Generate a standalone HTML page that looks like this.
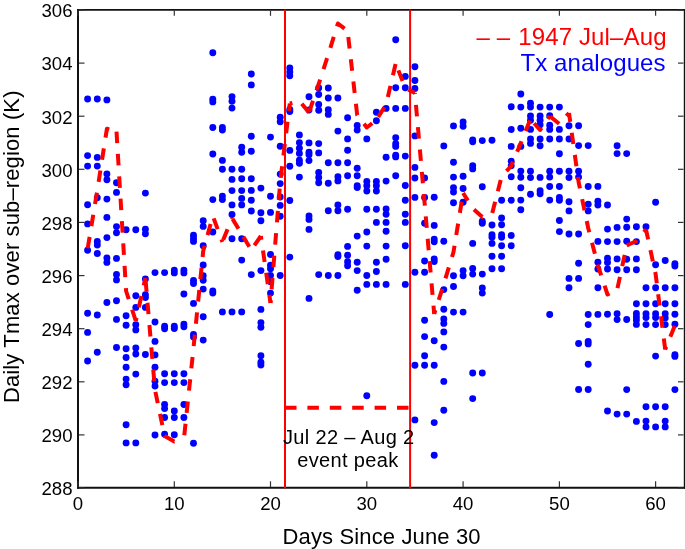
<!DOCTYPE html>
<html><head><meta charset="utf-8"><title>Daily Tmax</title>
<style>
html,body{margin:0;padding:0;background:#fff;}
body{width:685px;height:549px;overflow:hidden;}
svg{display:block;}
text{font-family:'Liberation Sans', Arial, Helvetica, sans-serif;}
</style></head><body>
<svg width="685" height="549" viewBox="0 0 685 549">
<rect x="0" y="0" width="685" height="549" fill="#fff"/>
<g fill="#0000ff">
<circle cx="87.6" cy="99.0" r="3.45"/><circle cx="87.6" cy="155.6" r="3.45"/><circle cx="87.6" cy="166.1" r="3.45"/><circle cx="87.6" cy="204.7" r="3.45"/><circle cx="87.6" cy="223.9" r="3.45"/><circle cx="87.6" cy="250.2" r="3.45"/><circle cx="87.6" cy="313.2" r="3.45"/><circle cx="87.6" cy="332.4" r="3.45"/><circle cx="87.6" cy="361.0" r="3.45"/>
<circle cx="97.3" cy="99.0" r="3.45"/><circle cx="97.3" cy="157.4" r="3.45"/><circle cx="97.3" cy="166.1" r="3.45"/><circle cx="97.3" cy="197.7" r="3.45"/><circle cx="97.3" cy="241.5" r="3.45"/><circle cx="97.3" cy="245.0" r="3.45"/><circle cx="97.3" cy="253.5" r="3.45"/><circle cx="97.3" cy="315.0" r="3.45"/><circle cx="97.3" cy="352.2" r="3.45"/>
<circle cx="106.9" cy="99.9" r="3.45"/><circle cx="106.9" cy="174.0" r="3.45"/><circle cx="106.9" cy="179.8" r="3.45"/><circle cx="106.9" cy="199.1" r="3.45"/><circle cx="106.9" cy="217.4" r="3.45"/><circle cx="106.9" cy="237.6" r="3.45"/><circle cx="106.9" cy="258.0" r="3.45"/><circle cx="106.9" cy="262.4" r="3.45"/><circle cx="106.9" cy="302.5" r="3.45"/>
<circle cx="116.5" cy="182.8" r="3.45"/><circle cx="116.5" cy="192.4" r="3.45"/><circle cx="116.5" cy="226.6" r="3.45"/><circle cx="116.5" cy="232.7" r="3.45"/><circle cx="116.5" cy="258.4" r="3.45"/><circle cx="116.5" cy="274.5" r="3.45"/><circle cx="116.5" cy="279.9" r="3.45"/><circle cx="116.5" cy="300.8" r="3.45"/><circle cx="116.5" cy="319.4" r="3.45"/><circle cx="116.5" cy="347.5" r="3.45"/>
<circle cx="126.1" cy="229.7" r="3.45"/><circle cx="126.1" cy="315.7" r="3.45"/><circle cx="126.1" cy="325.3" r="3.45"/><circle cx="126.1" cy="348.7" r="3.45"/><circle cx="126.1" cy="357.5" r="3.45"/><circle cx="126.1" cy="367.3" r="3.45"/><circle cx="126.1" cy="379.1" r="3.45"/><circle cx="126.1" cy="384.7" r="3.45"/><circle cx="126.1" cy="424.7" r="3.45"/><circle cx="126.1" cy="442.9" r="3.45"/>
<circle cx="135.8" cy="229.7" r="3.45"/><circle cx="135.8" cy="295.7" r="3.45"/><circle cx="135.8" cy="307.4" r="3.45"/><circle cx="135.8" cy="324.8" r="3.45"/><circle cx="135.8" cy="329.9" r="3.45"/><circle cx="135.8" cy="348.0" r="3.45"/><circle cx="135.8" cy="354.0" r="3.45"/><circle cx="135.8" cy="374.1" r="3.45"/><circle cx="135.8" cy="442.9" r="3.45"/>
<circle cx="145.4" cy="193.1" r="3.45"/><circle cx="145.4" cy="229.2" r="3.45"/><circle cx="145.4" cy="233.7" r="3.45"/><circle cx="145.4" cy="278.9" r="3.45"/><circle cx="145.4" cy="294.8" r="3.45"/><circle cx="145.4" cy="297.5" r="3.45"/><circle cx="145.4" cy="307.4" r="3.45"/><circle cx="145.4" cy="354.5" r="3.45"/>
<circle cx="155.0" cy="272.6" r="3.45"/><circle cx="155.0" cy="322.0" r="3.45"/><circle cx="155.0" cy="341.4" r="3.45"/><circle cx="155.0" cy="354.9" r="3.45"/><circle cx="155.0" cy="367.3" r="3.45"/><circle cx="155.0" cy="381.2" r="3.45"/><circle cx="155.0" cy="386.1" r="3.45"/><circle cx="155.0" cy="435.0" r="3.45"/>
<circle cx="164.6" cy="272.6" r="3.45"/><circle cx="164.6" cy="326.2" r="3.45"/><circle cx="164.6" cy="328.8" r="3.45"/><circle cx="164.6" cy="373.8" r="3.45"/><circle cx="164.6" cy="382.6" r="3.45"/><circle cx="164.6" cy="404.4" r="3.45"/><circle cx="164.6" cy="408.6" r="3.45"/><circle cx="164.6" cy="417.5" r="3.45"/><circle cx="164.6" cy="434.2" r="3.45"/>
<circle cx="174.3" cy="270.1" r="3.45"/><circle cx="174.3" cy="272.9" r="3.45"/><circle cx="174.3" cy="326.2" r="3.45"/><circle cx="174.3" cy="328.5" r="3.45"/><circle cx="174.3" cy="373.8" r="3.45"/><circle cx="174.3" cy="382.6" r="3.45"/><circle cx="174.3" cy="410.9" r="3.45"/><circle cx="174.3" cy="417.5" r="3.45"/><circle cx="174.3" cy="434.7" r="3.45"/>
<circle cx="183.9" cy="270.1" r="3.45"/><circle cx="183.9" cy="272.9" r="3.45"/><circle cx="183.9" cy="294.0" r="3.45"/><circle cx="183.9" cy="324.1" r="3.45"/><circle cx="183.9" cy="326.7" r="3.45"/><circle cx="183.9" cy="373.8" r="3.45"/><circle cx="183.9" cy="382.6" r="3.45"/><circle cx="183.9" cy="404.5" r="3.45"/><circle cx="183.9" cy="417.5" r="3.45"/>
<circle cx="193.5" cy="235.3" r="3.45"/><circle cx="193.5" cy="238.4" r="3.45"/><circle cx="193.5" cy="241.4" r="3.45"/><circle cx="193.5" cy="280.4" r="3.45"/><circle cx="193.5" cy="283.5" r="3.45"/><circle cx="193.5" cy="303.4" r="3.45"/><circle cx="193.5" cy="334.4" r="3.45"/><circle cx="193.5" cy="337.0" r="3.45"/><circle cx="193.5" cy="443.3" r="3.45"/>
<circle cx="203.2" cy="220.7" r="3.45"/><circle cx="203.2" cy="226.4" r="3.45"/><circle cx="203.2" cy="245.7" r="3.45"/><circle cx="203.2" cy="265.0" r="3.45"/><circle cx="203.2" cy="275.8" r="3.45"/><circle cx="203.2" cy="280.2" r="3.45"/><circle cx="203.2" cy="289.1" r="3.45"/><circle cx="203.2" cy="316.8" r="3.45"/><circle cx="203.2" cy="340.1" r="3.45"/>
<circle cx="212.8" cy="52.8" r="3.45"/><circle cx="212.8" cy="99.2" r="3.45"/><circle cx="212.8" cy="101.9" r="3.45"/><circle cx="212.8" cy="127.5" r="3.45"/><circle cx="212.8" cy="154.0" r="3.45"/><circle cx="212.8" cy="199.6" r="3.45"/><circle cx="212.8" cy="232.0" r="3.45"/><circle cx="212.8" cy="290.9" r="3.45"/><circle cx="212.8" cy="293.1" r="3.45"/>
<circle cx="222.4" cy="127.5" r="3.45"/><circle cx="222.4" cy="130.1" r="3.45"/><circle cx="222.4" cy="160.4" r="3.45"/><circle cx="222.4" cy="169.2" r="3.45"/><circle cx="222.4" cy="196.1" r="3.45"/><circle cx="222.4" cy="199.6" r="3.45"/><circle cx="222.4" cy="311.9" r="3.45"/>
<circle cx="232.0" cy="96.6" r="3.45"/><circle cx="232.0" cy="101.3" r="3.45"/><circle cx="232.0" cy="108.1" r="3.45"/><circle cx="232.0" cy="169.2" r="3.45"/><circle cx="232.0" cy="179.4" r="3.45"/><circle cx="232.0" cy="190.6" r="3.45"/><circle cx="232.0" cy="204.9" r="3.45"/><circle cx="232.0" cy="214.5" r="3.45"/><circle cx="232.0" cy="238.7" r="3.45"/><circle cx="232.0" cy="311.9" r="3.45"/>
<circle cx="241.7" cy="147.3" r="3.45"/><circle cx="241.7" cy="152.2" r="3.45"/><circle cx="241.7" cy="169.2" r="3.45"/><circle cx="241.7" cy="178.8" r="3.45"/><circle cx="241.7" cy="190.6" r="3.45"/><circle cx="241.7" cy="198.4" r="3.45"/><circle cx="241.7" cy="204.9" r="3.45"/><circle cx="241.7" cy="238.7" r="3.45"/><circle cx="241.7" cy="260.1" r="3.45"/><circle cx="241.7" cy="311.9" r="3.45"/>
<circle cx="251.3" cy="74.0" r="3.45"/><circle cx="251.3" cy="84.9" r="3.45"/><circle cx="251.3" cy="136.3" r="3.45"/><circle cx="251.3" cy="151.2" r="3.45"/><circle cx="251.3" cy="178.8" r="3.45"/><circle cx="251.3" cy="190.4" r="3.45"/><circle cx="251.3" cy="200.2" r="3.45"/><circle cx="251.3" cy="211.0" r="3.45"/><circle cx="251.3" cy="274.6" r="3.45"/>
<circle cx="260.9" cy="188.1" r="3.45"/><circle cx="260.9" cy="212.8" r="3.45"/><circle cx="260.9" cy="220.7" r="3.45"/><circle cx="260.9" cy="270.6" r="3.45"/><circle cx="260.9" cy="309.4" r="3.45"/><circle cx="260.9" cy="322.6" r="3.45"/><circle cx="260.9" cy="327.3" r="3.45"/><circle cx="260.9" cy="355.7" r="3.45"/><circle cx="260.9" cy="362.3" r="3.45"/><circle cx="260.9" cy="365.0" r="3.45"/>
<circle cx="270.5" cy="137.1" r="3.45"/><circle cx="270.5" cy="196.2" r="3.45"/><circle cx="270.5" cy="212.4" r="3.45"/><circle cx="270.5" cy="254.5" r="3.45"/><circle cx="270.5" cy="265.3" r="3.45"/><circle cx="270.5" cy="268.8" r="3.45"/><circle cx="270.5" cy="275.5" r="3.45"/><circle cx="270.5" cy="281.8" r="3.45"/><circle cx="270.5" cy="293.1" r="3.45"/>
<circle cx="280.2" cy="117.2" r="3.45"/><circle cx="280.2" cy="121.8" r="3.45"/><circle cx="280.2" cy="146.3" r="3.45"/><circle cx="280.2" cy="174.1" r="3.45"/><circle cx="280.2" cy="183.6" r="3.45"/><circle cx="280.2" cy="197.0" r="3.45"/><circle cx="280.2" cy="205.4" r="3.45"/><circle cx="280.2" cy="216.3" r="3.45"/><circle cx="280.2" cy="275.5" r="3.45"/>
<circle cx="289.8" cy="68.0" r="3.45"/><circle cx="289.8" cy="72.0" r="3.45"/><circle cx="289.8" cy="75.8" r="3.45"/><circle cx="289.8" cy="109.5" r="3.45"/><circle cx="289.8" cy="111.5" r="3.45"/><circle cx="289.8" cy="150.4" r="3.45"/><circle cx="289.8" cy="166.2" r="3.45"/><circle cx="289.8" cy="200.5" r="3.45"/><circle cx="289.8" cy="257.1" r="3.45"/>
<circle cx="299.4" cy="134.9" r="3.45"/><circle cx="299.4" cy="142.6" r="3.45"/><circle cx="299.4" cy="148.3" r="3.45"/><circle cx="299.4" cy="153.4" r="3.45"/><circle cx="299.4" cy="160.3" r="3.45"/><circle cx="299.4" cy="163.3" r="3.45"/><circle cx="299.4" cy="177.1" r="3.45"/>
<circle cx="309.0" cy="96.8" r="3.45"/><circle cx="309.0" cy="110.0" r="3.45"/><circle cx="309.0" cy="142.9" r="3.45"/><circle cx="309.0" cy="152.3" r="3.45"/><circle cx="309.0" cy="154.7" r="3.45"/><circle cx="309.0" cy="160.6" r="3.45"/><circle cx="309.0" cy="215.9" r="3.45"/><circle cx="309.0" cy="219.4" r="3.45"/><circle cx="309.0" cy="229.4" r="3.45"/><circle cx="309.0" cy="298.4" r="3.45"/>
<circle cx="318.7" cy="88.0" r="3.45"/><circle cx="318.7" cy="94.5" r="3.45"/><circle cx="318.7" cy="104.4" r="3.45"/><circle cx="318.7" cy="110.2" r="3.45"/><circle cx="318.7" cy="143.6" r="3.45"/><circle cx="318.7" cy="152.9" r="3.45"/><circle cx="318.7" cy="172.5" r="3.45"/><circle cx="318.7" cy="177.5" r="3.45"/><circle cx="318.7" cy="182.8" r="3.45"/><circle cx="318.7" cy="274.6" r="3.45"/>
<circle cx="328.3" cy="88.0" r="3.45"/><circle cx="328.3" cy="98.0" r="3.45"/><circle cx="328.3" cy="109.8" r="3.45"/><circle cx="328.3" cy="114.4" r="3.45"/><circle cx="328.3" cy="162.8" r="3.45"/><circle cx="328.3" cy="183.2" r="3.45"/><circle cx="328.3" cy="210.7" r="3.45"/><circle cx="328.3" cy="275.5" r="3.45"/>
<circle cx="337.9" cy="98.0" r="3.45"/><circle cx="337.9" cy="131.1" r="3.45"/><circle cx="337.9" cy="162.8" r="3.45"/><circle cx="337.9" cy="176.7" r="3.45"/><circle cx="337.9" cy="180.9" r="3.45"/><circle cx="337.9" cy="204.9" r="3.45"/><circle cx="337.9" cy="210.7" r="3.45"/><circle cx="337.9" cy="254.8" r="3.45"/><circle cx="337.9" cy="256.6" r="3.45"/><circle cx="337.9" cy="275.5" r="3.45"/>
<circle cx="347.6" cy="117.8" r="3.45"/><circle cx="347.6" cy="138.9" r="3.45"/><circle cx="347.6" cy="150.2" r="3.45"/><circle cx="347.6" cy="162.8" r="3.45"/><circle cx="347.6" cy="175.7" r="3.45"/><circle cx="347.6" cy="209.3" r="3.45"/><circle cx="347.6" cy="246.4" r="3.45"/><circle cx="347.6" cy="255.2" r="3.45"/><circle cx="347.6" cy="261.8" r="3.45"/><circle cx="347.6" cy="265.7" r="3.45"/>
<circle cx="357.2" cy="125.4" r="3.45"/><circle cx="357.2" cy="130.1" r="3.45"/><circle cx="357.2" cy="168.3" r="3.45"/><circle cx="357.2" cy="175.7" r="3.45"/><circle cx="357.2" cy="185.8" r="3.45"/><circle cx="357.2" cy="187.6" r="3.45"/><circle cx="357.2" cy="236.1" r="3.45"/><circle cx="357.2" cy="262.2" r="3.45"/><circle cx="357.2" cy="270.6" r="3.45"/><circle cx="357.2" cy="290.2" r="3.45"/>
<circle cx="366.8" cy="138.9" r="3.45"/><circle cx="366.8" cy="181.5" r="3.45"/><circle cx="366.8" cy="185.8" r="3.45"/><circle cx="366.8" cy="191.0" r="3.45"/><circle cx="366.8" cy="209.3" r="3.45"/><circle cx="366.8" cy="232.0" r="3.45"/><circle cx="366.8" cy="246.1" r="3.45"/><circle cx="366.8" cy="275.5" r="3.45"/><circle cx="366.8" cy="284.4" r="3.45"/><circle cx="366.8" cy="395.8" r="3.45"/>
<circle cx="376.4" cy="112.3" r="3.45"/><circle cx="376.4" cy="120.7" r="3.45"/><circle cx="376.4" cy="181.5" r="3.45"/><circle cx="376.4" cy="185.8" r="3.45"/><circle cx="376.4" cy="191.0" r="3.45"/><circle cx="376.4" cy="209.3" r="3.45"/><circle cx="376.4" cy="222.4" r="3.45"/><circle cx="376.4" cy="262.2" r="3.45"/><circle cx="376.4" cy="271.5" r="3.45"/><circle cx="376.4" cy="284.4" r="3.45"/>
<circle cx="386.1" cy="108.4" r="3.45"/><circle cx="386.1" cy="157.3" r="3.45"/><circle cx="386.1" cy="181.1" r="3.45"/><circle cx="386.1" cy="208.9" r="3.45"/><circle cx="386.1" cy="214.2" r="3.45"/><circle cx="386.1" cy="222.4" r="3.45"/><circle cx="386.1" cy="231.2" r="3.45"/><circle cx="386.1" cy="246.1" r="3.45"/><circle cx="386.1" cy="259.2" r="3.45"/><circle cx="386.1" cy="284.4" r="3.45"/>
<circle cx="395.7" cy="39.7" r="3.45"/><circle cx="395.7" cy="87.8" r="3.45"/><circle cx="395.7" cy="108.4" r="3.45"/><circle cx="395.7" cy="137.7" r="3.45"/><circle cx="395.7" cy="143.8" r="3.45"/><circle cx="395.7" cy="146.4" r="3.45"/><circle cx="395.7" cy="155.2" r="3.45"/><circle cx="395.7" cy="156.9" r="3.45"/><circle cx="395.7" cy="175.7" r="3.45"/>
<circle cx="405.3" cy="76.4" r="3.45"/><circle cx="405.3" cy="87.8" r="3.45"/><circle cx="405.3" cy="108.4" r="3.45"/><circle cx="405.3" cy="156.1" r="3.45"/><circle cx="405.3" cy="185.5" r="3.45"/><circle cx="405.3" cy="200.2" r="3.45"/><circle cx="405.3" cy="214.2" r="3.45"/><circle cx="405.3" cy="222.4" r="3.45"/><circle cx="405.3" cy="245.7" r="3.45"/><circle cx="405.3" cy="284.4" r="3.45"/>
<circle cx="414.9" cy="66.8" r="3.45"/><circle cx="414.9" cy="80.5" r="3.45"/><circle cx="414.9" cy="88.5" r="3.45"/><circle cx="414.9" cy="135.9" r="3.45"/><circle cx="414.9" cy="167.4" r="3.45"/><circle cx="414.9" cy="178.0" r="3.45"/><circle cx="414.9" cy="197.4" r="3.45"/><circle cx="414.9" cy="272.2" r="3.45"/><circle cx="414.9" cy="365.2" r="3.45"/><circle cx="414.9" cy="419.9" r="3.45"/>
<circle cx="424.6" cy="178.0" r="3.45"/><circle cx="424.6" cy="197.4" r="3.45"/><circle cx="424.6" cy="223.3" r="3.45"/><circle cx="424.6" cy="261.0" r="3.45"/><circle cx="424.6" cy="272.3" r="3.45"/><circle cx="424.6" cy="320.3" r="3.45"/><circle cx="424.6" cy="336.6" r="3.45"/><circle cx="424.6" cy="355.7" r="3.45"/><circle cx="424.6" cy="365.3" r="3.45"/>
<circle cx="434.2" cy="197.2" r="3.45"/><circle cx="434.2" cy="225.4" r="3.45"/><circle cx="434.2" cy="239.1" r="3.45"/><circle cx="434.2" cy="241.7" r="3.45"/><circle cx="434.2" cy="258.9" r="3.45"/><circle cx="434.2" cy="261.5" r="3.45"/><circle cx="434.2" cy="340.8" r="3.45"/><circle cx="434.2" cy="365.3" r="3.45"/><circle cx="434.2" cy="422.6" r="3.45"/><circle cx="434.2" cy="455.3" r="3.45"/>
<circle cx="443.8" cy="145.9" r="3.45"/><circle cx="443.8" cy="241.3" r="3.45"/><circle cx="443.8" cy="289.6" r="3.45"/><circle cx="443.8" cy="309.3" r="3.45"/><circle cx="443.8" cy="318.9" r="3.45"/><circle cx="443.8" cy="323.4" r="3.45"/><circle cx="443.8" cy="331.9" r="3.45"/><circle cx="443.8" cy="347.1" r="3.45"/><circle cx="443.8" cy="381.4" r="3.45"/><circle cx="443.8" cy="410.3" r="3.45"/>
<circle cx="453.5" cy="125.9" r="3.45"/><circle cx="453.5" cy="162.2" r="3.45"/><circle cx="453.5" cy="177.1" r="3.45"/><circle cx="453.5" cy="187.6" r="3.45"/><circle cx="453.5" cy="192.0" r="3.45"/><circle cx="453.5" cy="202.8" r="3.45"/><circle cx="453.5" cy="275.8" r="3.45"/><circle cx="453.5" cy="286.5" r="3.45"/><circle cx="453.5" cy="312.1" r="3.45"/>
<circle cx="463.1" cy="121.9" r="3.45"/><circle cx="463.1" cy="126.3" r="3.45"/><circle cx="463.1" cy="176.2" r="3.45"/><circle cx="463.1" cy="188.5" r="3.45"/><circle cx="463.1" cy="202.3" r="3.45"/><circle cx="463.1" cy="270.6" r="3.45"/><circle cx="463.1" cy="275.8" r="3.45"/><circle cx="463.1" cy="312.1" r="3.45"/>
<circle cx="472.7" cy="139.9" r="3.45"/><circle cx="472.7" cy="141.7" r="3.45"/><circle cx="472.7" cy="165.7" r="3.45"/><circle cx="472.7" cy="168.9" r="3.45"/><circle cx="472.7" cy="243.4" r="3.45"/><circle cx="472.7" cy="268.5" r="3.45"/><circle cx="472.7" cy="274.1" r="3.45"/><circle cx="472.7" cy="373.0" r="3.45"/><circle cx="472.7" cy="398.6" r="3.45"/>
<circle cx="482.3" cy="140.6" r="3.45"/><circle cx="482.3" cy="186.7" r="3.45"/><circle cx="482.3" cy="221.2" r="3.45"/><circle cx="482.3" cy="223.3" r="3.45"/><circle cx="482.3" cy="274.1" r="3.45"/><circle cx="482.3" cy="287.9" r="3.45"/><circle cx="482.3" cy="293.1" r="3.45"/><circle cx="482.3" cy="373.0" r="3.45"/>
<circle cx="492.0" cy="140.3" r="3.45"/><circle cx="492.0" cy="225.0" r="3.45"/><circle cx="492.0" cy="234.7" r="3.45"/><circle cx="492.0" cy="237.3" r="3.45"/><circle cx="492.0" cy="243.4" r="3.45"/><circle cx="492.0" cy="256.2" r="3.45"/><circle cx="492.0" cy="268.8" r="3.45"/>
<circle cx="501.6" cy="200.2" r="3.45"/><circle cx="501.6" cy="218.0" r="3.45"/><circle cx="501.6" cy="224.7" r="3.45"/><circle cx="501.6" cy="234.7" r="3.45"/><circle cx="501.6" cy="237.3" r="3.45"/><circle cx="501.6" cy="245.7" r="3.45"/><circle cx="501.6" cy="256.2" r="3.45"/><circle cx="501.6" cy="268.8" r="3.45"/>
<circle cx="511.2" cy="106.8" r="3.45"/><circle cx="511.2" cy="129.5" r="3.45"/><circle cx="511.2" cy="146.4" r="3.45"/><circle cx="511.2" cy="161.3" r="3.45"/><circle cx="511.2" cy="165.7" r="3.45"/><circle cx="511.2" cy="176.7" r="3.45"/><circle cx="511.2" cy="200.2" r="3.45"/><circle cx="511.2" cy="235.5" r="3.45"/><circle cx="511.2" cy="245.7" r="3.45"/>
<circle cx="520.8" cy="94.0" r="3.45"/><circle cx="520.8" cy="107.1" r="3.45"/><circle cx="520.8" cy="128.2" r="3.45"/><circle cx="520.8" cy="146.4" r="3.45"/><circle cx="520.8" cy="171.1" r="3.45"/><circle cx="520.8" cy="177.3" r="3.45"/><circle cx="520.8" cy="187.8" r="3.45"/><circle cx="520.8" cy="200.1" r="3.45"/><circle cx="520.8" cy="209.7" r="3.45"/>
<circle cx="530.5" cy="103.2" r="3.45"/><circle cx="530.5" cy="107.1" r="3.45"/><circle cx="530.5" cy="115.9" r="3.45"/><circle cx="530.5" cy="120.2" r="3.45"/><circle cx="530.5" cy="129.4" r="3.45"/><circle cx="530.5" cy="138.9" r="3.45"/><circle cx="530.5" cy="143.4" r="3.45"/><circle cx="530.5" cy="171.3" r="3.45"/><circle cx="530.5" cy="177.6" r="3.45"/><circle cx="530.5" cy="194.3" r="3.45"/>
<circle cx="540.1" cy="107.1" r="3.45"/><circle cx="540.1" cy="115.9" r="3.45"/><circle cx="540.1" cy="120.2" r="3.45"/><circle cx="540.1" cy="124.7" r="3.45"/><circle cx="540.1" cy="139.0" r="3.45"/><circle cx="540.1" cy="145.7" r="3.45"/><circle cx="540.1" cy="177.4" r="3.45"/><circle cx="540.1" cy="190.8" r="3.45"/><circle cx="540.1" cy="193.7" r="3.45"/>
<circle cx="549.7" cy="107.1" r="3.45"/><circle cx="549.7" cy="115.7" r="3.45"/><circle cx="549.7" cy="125.3" r="3.45"/><circle cx="549.7" cy="129.4" r="3.45"/><circle cx="549.7" cy="139.0" r="3.45"/><circle cx="549.7" cy="171.3" r="3.45"/><circle cx="549.7" cy="177.1" r="3.45"/><circle cx="549.7" cy="186.5" r="3.45"/><circle cx="549.7" cy="200.1" r="3.45"/><circle cx="549.7" cy="314.5" r="3.45"/>
<circle cx="559.4" cy="107.1" r="3.45"/><circle cx="559.4" cy="129.4" r="3.45"/><circle cx="559.4" cy="139.0" r="3.45"/><circle cx="559.4" cy="153.7" r="3.45"/><circle cx="559.4" cy="171.3" r="3.45"/><circle cx="559.4" cy="186.5" r="3.45"/><circle cx="559.4" cy="197.5" r="3.45"/><circle cx="559.4" cy="200.3" r="3.45"/><circle cx="559.4" cy="220.5" r="3.45"/><circle cx="559.4" cy="231.6" r="3.45"/>
<circle cx="569.0" cy="125.8" r="3.45"/><circle cx="569.0" cy="139.0" r="3.45"/><circle cx="569.0" cy="171.3" r="3.45"/><circle cx="569.0" cy="177.6" r="3.45"/><circle cx="569.0" cy="201.8" r="3.45"/><circle cx="569.0" cy="210.9" r="3.45"/><circle cx="569.0" cy="234.0" r="3.45"/><circle cx="569.0" cy="278.4" r="3.45"/><circle cx="569.0" cy="287.8" r="3.45"/>
<circle cx="578.6" cy="125.8" r="3.45"/><circle cx="578.6" cy="145.6" r="3.45"/><circle cx="578.6" cy="171.3" r="3.45"/><circle cx="578.6" cy="177.1" r="3.45"/><circle cx="578.6" cy="234.0" r="3.45"/><circle cx="578.6" cy="263.2" r="3.45"/><circle cx="578.6" cy="278.4" r="3.45"/><circle cx="578.6" cy="343.5" r="3.45"/><circle cx="578.6" cy="389.5" r="3.45"/>
<circle cx="588.2" cy="145.6" r="3.45"/><circle cx="588.2" cy="186.5" r="3.45"/><circle cx="588.2" cy="204.3" r="3.45"/><circle cx="588.2" cy="210.9" r="3.45"/><circle cx="588.2" cy="314.5" r="3.45"/><circle cx="588.2" cy="324.6" r="3.45"/><circle cx="588.2" cy="341.5" r="3.45"/><circle cx="588.2" cy="343.9" r="3.45"/><circle cx="588.2" cy="364.3" r="3.45"/><circle cx="588.2" cy="389.5" r="3.45"/>
<circle cx="597.9" cy="186.4" r="3.45"/><circle cx="597.9" cy="201.2" r="3.45"/><circle cx="597.9" cy="205.0" r="3.45"/><circle cx="597.9" cy="241.4" r="3.45"/><circle cx="597.9" cy="262.3" r="3.45"/><circle cx="597.9" cy="269.0" r="3.45"/><circle cx="597.9" cy="287.8" r="3.45"/><circle cx="597.9" cy="314.4" r="3.45"/>
<circle cx="607.5" cy="205.0" r="3.45"/><circle cx="607.5" cy="229.1" r="3.45"/><circle cx="607.5" cy="241.6" r="3.45"/><circle cx="607.5" cy="258.2" r="3.45"/><circle cx="607.5" cy="262.5" r="3.45"/><circle cx="607.5" cy="269.0" r="3.45"/><circle cx="607.5" cy="314.3" r="3.45"/><circle cx="607.5" cy="411.0" r="3.45"/>
<circle cx="617.1" cy="145.7" r="3.45"/><circle cx="617.1" cy="153.6" r="3.45"/><circle cx="617.1" cy="227.4" r="3.45"/><circle cx="617.1" cy="241.6" r="3.45"/><circle cx="617.1" cy="258.9" r="3.45"/><circle cx="617.1" cy="269.7" r="3.45"/><circle cx="617.1" cy="313.7" r="3.45"/><circle cx="617.1" cy="319.6" r="3.45"/><circle cx="617.1" cy="414.1" r="3.45"/>
<circle cx="626.7" cy="153.6" r="3.45"/><circle cx="626.7" cy="219.1" r="3.45"/><circle cx="626.7" cy="227.2" r="3.45"/><circle cx="626.7" cy="241.3" r="3.45"/><circle cx="626.7" cy="259.3" r="3.45"/><circle cx="626.7" cy="269.7" r="3.45"/><circle cx="626.7" cy="319.5" r="3.45"/><circle cx="626.7" cy="389.6" r="3.45"/><circle cx="626.7" cy="414.1" r="3.45"/>
<circle cx="636.4" cy="226.8" r="3.45"/><circle cx="636.4" cy="241.6" r="3.45"/><circle cx="636.4" cy="258.9" r="3.45"/><circle cx="636.4" cy="269.7" r="3.45"/><circle cx="636.4" cy="303.7" r="3.45"/><circle cx="636.4" cy="313.4" r="3.45"/><circle cx="636.4" cy="317.0" r="3.45"/><circle cx="636.4" cy="320.1" r="3.45"/><circle cx="636.4" cy="324.4" r="3.45"/><circle cx="636.4" cy="421.4" r="3.45"/>
<circle cx="646.0" cy="226.8" r="3.45"/><circle cx="646.0" cy="287.7" r="3.45"/><circle cx="646.0" cy="303.7" r="3.45"/><circle cx="646.0" cy="313.7" r="3.45"/><circle cx="646.0" cy="317.5" r="3.45"/><circle cx="646.0" cy="324.6" r="3.45"/><circle cx="646.0" cy="406.8" r="3.45"/><circle cx="646.0" cy="421.1" r="3.45"/><circle cx="646.0" cy="426.9" r="3.45"/>
<circle cx="655.6" cy="202.2" r="3.45"/><circle cx="655.6" cy="264.8" r="3.45"/><circle cx="655.6" cy="287.7" r="3.45"/><circle cx="655.6" cy="303.7" r="3.45"/><circle cx="655.6" cy="313.7" r="3.45"/><circle cx="655.6" cy="317.5" r="3.45"/><circle cx="655.6" cy="324.6" r="3.45"/><circle cx="655.6" cy="356.1" r="3.45"/><circle cx="655.6" cy="406.8" r="3.45"/><circle cx="655.6" cy="426.9" r="3.45"/>
<circle cx="665.2" cy="260.5" r="3.45"/><circle cx="665.2" cy="287.7" r="3.45"/><circle cx="665.2" cy="303.7" r="3.45"/><circle cx="665.2" cy="313.7" r="3.45"/><circle cx="665.2" cy="317.9" r="3.45"/><circle cx="665.2" cy="324.6" r="3.45"/><circle cx="665.2" cy="406.8" r="3.45"/><circle cx="665.2" cy="421.1" r="3.45"/><circle cx="665.2" cy="426.9" r="3.45"/>
<circle cx="674.9" cy="263.6" r="3.45"/><circle cx="674.9" cy="266.0" r="3.45"/><circle cx="674.9" cy="287.7" r="3.45"/><circle cx="674.9" cy="303.7" r="3.45"/><circle cx="674.9" cy="314.2" r="3.45"/><circle cx="674.9" cy="324.2" r="3.45"/><circle cx="674.9" cy="354.7" r="3.45"/><circle cx="674.9" cy="356.4" r="3.45"/><circle cx="674.9" cy="389.6" r="3.45"/>
</g>
<g fill="none" stroke="#ff0000" stroke-width="4" stroke-dasharray="11.5 10.9" stroke-linejoin="round">
<polyline points="87.6,249.0 97.3,190.4 106.9,128.7 116.5,131.5" stroke-dashoffset="21.61"/>
<polyline points="116.5,131.5 126.1,291.0 135.8,321.0" stroke-dashoffset="22.30"/>
<polyline points="135.8,321.0 145.4,278.0" stroke-dashoffset="8.29"/>
<polyline points="145.4,278.0 155.0,390.0 164.6,436.0 174.3,441.5 183.9,439.0" stroke-dashoffset="20.00"/>
<polyline points="183.9,439.0 193.5,348.0 203.2,251.0 212.8,216.0 222.4,242.0" stroke-dashoffset="18.57"/>
<polyline points="222.4,242.0 232.0,218.0" stroke-dashoffset="20.06"/>
<polyline points="232.0,218.0 241.7,234.0" stroke-dashoffset="21.39"/>
<polyline points="241.7,234.0 251.3,250.0" stroke-dashoffset="19.14"/>
<polyline points="251.3,250.0 260.9,236.0" stroke-dashoffset="16.87"/>
<polyline points="260.9,236.0 270.5,303.0" stroke-dashoffset="7.71"/>
<polyline points="270.5,303.0 280.2,182.0 289.8,103.5" stroke-dashoffset="8.69"/>
<polyline points="289.8,103.5 299.4,101.0 309.0,112.5" stroke-dashoffset="8.82"/>
<polyline points="309.0,112.5 318.7,84.0 328.3,54.5 337.9,23.5 347.6,31.0" stroke-dashoffset="21.50"/>
<polyline points="347.6,31.0 357.2,115.0 366.8,127.5 376.4,120.0" stroke-dashoffset="16.32"/>
<polyline points="376.4,120.0 386.1,104.5 395.7,63.5" stroke-dashoffset="18.87"/>
<polyline points="395.7,63.5 405.3,88.0 414.9,93.0" stroke-dashoffset="15.02"/>
<polyline points="414.9,93.0 424.6,203.0 434.2,314.0" stroke-dashoffset="10.49"/>
<polyline points="434.2,314.0 443.8,284.0 453.5,252.0 463.1,193.0" stroke-dashoffset="7.48"/>
<polyline points="463.1,193.0 472.7,208.5 482.3,217.0 492.0,214.0 501.6,176.6 511.2,166.0 520.8,143.0 530.5,119.0" stroke-dashoffset="2.48"/>
<polyline points="530.5,119.0 540.1,130.0 549.7,116.0" stroke-dashoffset="16.78"/>
<polyline points="549.7,116.0 559.4,124.0 569.0,113.0" stroke-dashoffset="21.65"/>
<polyline points="569.0,113.0 578.6,182.0 588.2,228.0 597.9,265.5 607.5,294.5 617.1,290.0" stroke-dashoffset="2.52"/>
<polyline points="617.1,290.0 626.7,245.5" stroke-dashoffset="20.44"/>
<polyline points="626.7,245.5 636.4,241.0 646.0,229.5" stroke-dashoffset="22.40"/>
<polyline points="646.0,229.5 655.6,274.0 665.2,349.5" stroke-dashoffset="1.37"/>
<polyline points="665.2,349.5 674.9,325.5" stroke-dashoffset="8.66"/>
</g>
<g stroke="#000" fill="none">
<line x1="77" y1="9.8" x2="685" y2="9.8" stroke-width="1.8" stroke="#111"/>
<line x1="78" y1="8.9" x2="78" y2="488.7" stroke-width="2" stroke="#111"/>
<line x1="77" y1="487.7" x2="685" y2="487.7" stroke-width="2" stroke="#111"/>
<line x1="684.5" y1="8.9" x2="684.5" y2="488.7" stroke-width="1.4" stroke="#111"/>
<line x1="79" y1="488.0" x2="84.5" y2="488.0" stroke-width="1.2" stroke="#333"/><line x1="683.5" y1="488.0" x2="678" y2="488.0" stroke-width="1.2" stroke="#333"/>
<line x1="79" y1="434.9" x2="84.5" y2="434.9" stroke-width="1.2" stroke="#333"/><line x1="683.5" y1="434.9" x2="678" y2="434.9" stroke-width="1.2" stroke="#333"/>
<line x1="79" y1="381.8" x2="84.5" y2="381.8" stroke-width="1.2" stroke="#333"/><line x1="683.5" y1="381.8" x2="678" y2="381.8" stroke-width="1.2" stroke="#333"/>
<line x1="79" y1="328.7" x2="84.5" y2="328.7" stroke-width="1.2" stroke="#333"/><line x1="683.5" y1="328.7" x2="678" y2="328.7" stroke-width="1.2" stroke="#333"/>
<line x1="79" y1="275.6" x2="84.5" y2="275.6" stroke-width="1.2" stroke="#333"/><line x1="683.5" y1="275.6" x2="678" y2="275.6" stroke-width="1.2" stroke="#333"/>
<line x1="79" y1="222.4" x2="84.5" y2="222.4" stroke-width="1.2" stroke="#333"/><line x1="683.5" y1="222.4" x2="678" y2="222.4" stroke-width="1.2" stroke="#333"/>
<line x1="79" y1="169.3" x2="84.5" y2="169.3" stroke-width="1.2" stroke="#333"/><line x1="683.5" y1="169.3" x2="678" y2="169.3" stroke-width="1.2" stroke="#333"/>
<line x1="79" y1="116.2" x2="84.5" y2="116.2" stroke-width="1.2" stroke="#333"/><line x1="683.5" y1="116.2" x2="678" y2="116.2" stroke-width="1.2" stroke="#333"/>
<line x1="79" y1="63.1" x2="84.5" y2="63.1" stroke-width="1.2" stroke="#333"/><line x1="683.5" y1="63.1" x2="678" y2="63.1" stroke-width="1.2" stroke="#333"/>
<line x1="79" y1="10.0" x2="84.5" y2="10.0" stroke-width="1.2" stroke="#333"/><line x1="683.5" y1="10.0" x2="678" y2="10.0" stroke-width="1.2" stroke="#333"/>
<line x1="78.0" y1="487" x2="78.0" y2="481.3" stroke-width="1.2" stroke="#333"/><line x1="78.0" y1="10.5" x2="78.0" y2="15.8" stroke-width="1.2" stroke="#333"/>
<line x1="174.3" y1="487" x2="174.3" y2="481.3" stroke-width="1.2" stroke="#333"/><line x1="174.3" y1="10.5" x2="174.3" y2="15.8" stroke-width="1.2" stroke="#333"/>
<line x1="270.5" y1="487" x2="270.5" y2="481.3" stroke-width="1.2" stroke="#333"/><line x1="270.5" y1="10.5" x2="270.5" y2="15.8" stroke-width="1.2" stroke="#333"/>
<line x1="366.8" y1="487" x2="366.8" y2="481.3" stroke-width="1.2" stroke="#333"/><line x1="366.8" y1="10.5" x2="366.8" y2="15.8" stroke-width="1.2" stroke="#333"/>
<line x1="463.1" y1="487" x2="463.1" y2="481.3" stroke-width="1.2" stroke="#333"/><line x1="463.1" y1="10.5" x2="463.1" y2="15.8" stroke-width="1.2" stroke="#333"/>
<line x1="559.4" y1="487" x2="559.4" y2="481.3" stroke-width="1.2" stroke="#333"/><line x1="559.4" y1="10.5" x2="559.4" y2="15.8" stroke-width="1.2" stroke="#333"/>
<line x1="655.6" y1="487" x2="655.6" y2="481.3" stroke-width="1.2" stroke="#333"/><line x1="655.6" y1="10.5" x2="655.6" y2="15.8" stroke-width="1.2" stroke="#333"/>
</g>
<line x1="285.0" y1="9.5" x2="285.0" y2="488.3" stroke="#ff0000" stroke-width="2"/>
<line x1="410.1" y1="9.5" x2="410.1" y2="488.3" stroke="#ff0000" stroke-width="2"/>
<line x1="285.0" y1="407.8" x2="410.1" y2="407.8" stroke="#ff0000" stroke-width="4" stroke-dasharray="11.5 10.9"/>
<g font-size="18.6" fill="#000">
<text x="72.5" y="495.3" text-anchor="end">288</text>
<text x="72.5" y="442.2" text-anchor="end">290</text>
<text x="72.5" y="389.1" text-anchor="end">292</text>
<text x="72.5" y="336.0" text-anchor="end">294</text>
<text x="72.5" y="282.9" text-anchor="end">296</text>
<text x="72.5" y="229.7" text-anchor="end">298</text>
<text x="72.5" y="176.6" text-anchor="end">300</text>
<text x="72.5" y="123.5" text-anchor="end">302</text>
<text x="72.5" y="70.4" text-anchor="end">304</text>
<text x="72.5" y="17.3" text-anchor="end">306</text>
<text x="78.0" y="510" text-anchor="middle">0</text>
<text x="174.3" y="510" text-anchor="middle">10</text>
<text x="270.5" y="510" text-anchor="middle">20</text>
<text x="366.8" y="510" text-anchor="middle">30</text>
<text x="463.1" y="510" text-anchor="middle">40</text>
<text x="559.4" y="510" text-anchor="middle">50</text>
<text x="655.6" y="510" text-anchor="middle">60</text>
</g>
<text x="282.50" y="543.50" font-size="22" fill="#000" textLength="198.10" lengthAdjust="spacing">Days Since June 30</text>
<text transform="translate(18.80,403.00) rotate(-90)" x="0" y="0" font-size="22" fill="#000" textLength="312.50" lengthAdjust="spacing">Daily Tmax over sub–region (K)</text>
<text x="476.40" y="44.60" font-size="24" fill="#ff0000" textLength="33.60" lengthAdjust="spacing">– –</text>
<text x="518.20" y="44.60" font-size="24" fill="#ff0000" textLength="148.40" lengthAdjust="spacing">1947 Jul–Aug</text>
<text x="520.50" y="70.80" font-size="24" fill="#0000ff" textLength="145.00" lengthAdjust="spacing">Tx analogues</text>
<text x="283.00" y="443.70" font-size="20" fill="#000" textLength="131.10" lengthAdjust="spacing">Jul 22 – Aug 2</text>
<text x="297.30" y="467.00" font-size="20" fill="#000" textLength="100.90" lengthAdjust="spacing">event peak</text>
</svg>
</body></html>
